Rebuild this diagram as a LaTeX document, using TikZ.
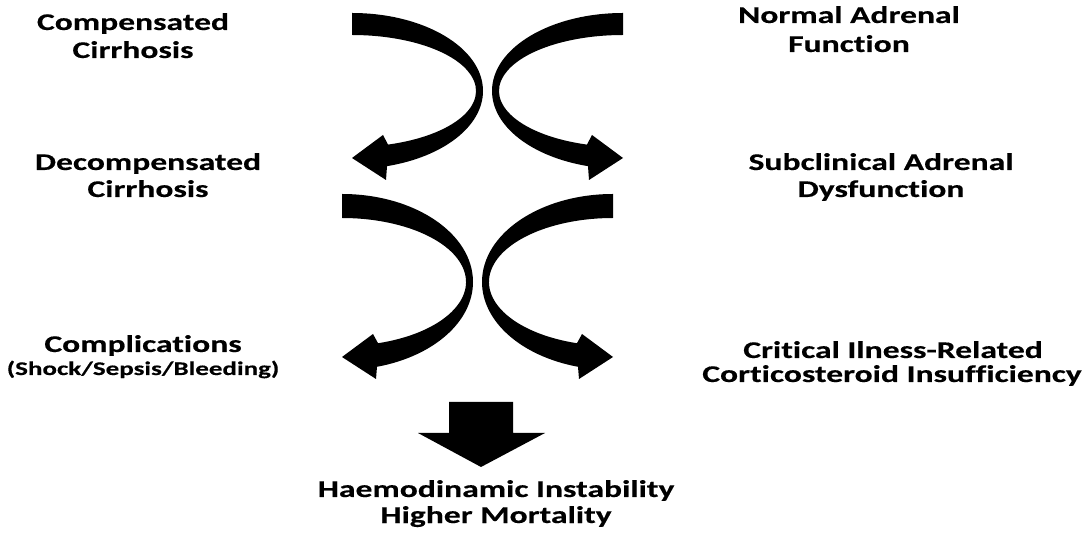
\documentclass[tikz,border=0pt]{standalone}
\usepackage{fontspec}
\newfontfamily\lblfont{Carlito}[FakeStretch=1.40, FakeBold=0.35, Ligatures=NoCommon]
\begin{document}
\begin{tikzpicture}[x=1pt,y=1pt,
  arrowfill/.style={fill=black},
  lbl/.style={font=\lblfont\bfseries\fontsize{24}{28}\selectfont, inner sep=0pt, anchor=base, text=black},
  sublbl/.style={font=\lblfont\bfseries\fontsize{19.3}{22}\selectfont, inner sep=0pt, anchor=base, text=black}]
\useasboundingbox (0,0) rectangle (1092,546);
\fill[white] (0,0) rectangle (1092,546);
\newcommand{\curvedarrow}[5]{%
  \begin{scope}[shift={#1}, xscale=#2]
    \fill[arrowfill] (90:131 and #3) arc[start angle=90, end angle=-74.5, x radius=131, y radius=#3]
      -- (34,#5-22) -- (0,#5) -- (31,#5+23) -- (-73.1:124 and #4)
      arc[start angle=-73.1, end angle=90, x radius=124, y radius=#4] -- cycle;
  \end{scope}}
% top pair
\curvedarrow{(352,455)}{1}{78}{56}{-67}
\curvedarrow{(623,455)}{-1}{78}{56}{-67}
% second pair
\curvedarrow{(342,264)}{1}{88}{64}{-75}
\curvedarrow{(613,264)}{-1}{88}{64}{-75}
% down arrow
\fill[arrowfill] (449,144) -- (513,144) -- (513,113) -- (545,113) -- (481,79) -- (418,113) -- (449,113) -- cycle;
% labels
\node[lbl] (cc1) at (133,516) {Compensated};
\node[lbl] (cc2) at (133,488) {Cirrhosis};
\node[lbl] (na1) at (849,523) {Normal Adrenal};
\node[lbl] (na2) at (849,494) {Function};
\node[lbl] (dc1) at (148,376) {Decompensated};
\node[lbl] (dc2) at (148,349) {Cirrhosis};
\node[lbl] (sa1) at (881,376) {Subclinical Adrenal};
\node[lbl] (sa2) at (881,349) {Dysfunction};
\node[lbl] (co1) at (143,194) {Complications};
\node[sublbl] (co2) at (143,171) {(Shock/Sepsis/Bleeding)};
\node[lbl] (ci1) at (893,188) {Critical Ilness-Related};
\node[lbl] (ci2) at (892,164) {Corticosteroid Insufficiency};
\node[lbl] (hm1) at (496,49) {Haemodinamic Instability};
\node[lbl] (hm2) at (496,23) {Higher Mortality};
\end{tikzpicture}
\end{document}
